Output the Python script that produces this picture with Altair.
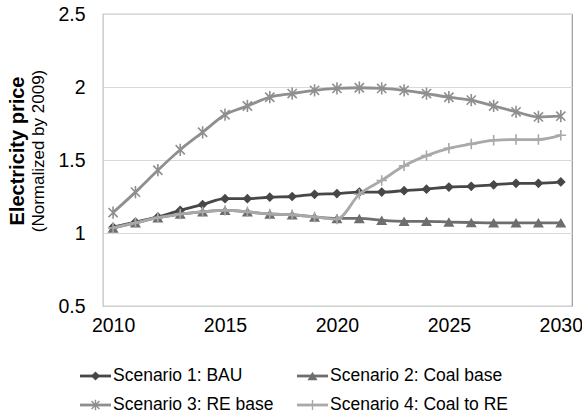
import altair as alt
import pandas as pd

years = list(range(2010, 2031))
bau = [1.04, 1.075, 1.11, 1.155, 1.195, 1.235, 1.235, 1.245, 1.25, 1.265, 1.27,
       1.28, 1.28, 1.29, 1.30, 1.315, 1.32, 1.33, 1.34, 1.34, 1.35]
coal_base = [1.035, 1.07, 1.105, 1.13, 1.145, 1.155, 1.145, 1.13, 1.125, 1.11, 1.10,
             1.10, 1.087, 1.08, 1.08, 1.075, 1.072, 1.07, 1.07, 1.07, 1.07]
re_base = [1.14, 1.28, 1.43, 1.57, 1.69, 1.81, 1.87, 1.93, 1.955, 1.977, 1.99,
           1.995, 1.99, 1.977, 1.955, 1.93, 1.91, 1.87, 1.83, 1.795, 1.80]
coal_to_re = [1.035, 1.07, 1.105, 1.13, 1.145, 1.155, 1.145, 1.13, 1.125, 1.11, 1.095,
              1.265, 1.36, 1.46, 1.53, 1.58, 1.61, 1.635, 1.64, 1.64, 1.67]

series_names = ["Scenario 1: BAU", "Scenario 2: Coal base",
                "Scenario 3: RE base", "Scenario 4: Coal to RE"]
series_values = [bau, coal_base, re_base, coal_to_re]
series_colors = ["#474747", "#6e6e6e", "#8f8f8f", "#a9a9a9"]
marker_shapes = ["diamond", "triangle-up",
                 "M0,-1L0,1M-0.75,-0.75L0.75,0.75M-0.75,0.75L0.75,-0.75",
                 "M-1,0L1,0M0,-1L0,1"]
marker_sizes = [95, 120, 150, 110]
legend_marker_sizes = [80, 100, 110, 100]
marker_filled = [True, True, False, False]
x_ticks = [2010, 2015, 2020, 2025, 2030]
y_ticks = [0.5, 1, 1.5, 2, 2.5]

# legend layout (2 x 2 grid below the plot, Excel-style)
legend_col = [0, 1, 0, 1]
legend_row = [0, 0, 1, 1]
legend_col_x = [-23, 194]
legend_row_y = [362, 391]
legend_sym_w = 31

rows = []
for name, vals in zip(series_names, series_values):
    for yr, v in zip(years, vals):
        rows.append({"Year": yr, "Price": v, "Scenario": name})
df = pd.DataFrame(rows)

leg_rows = []
for name, c, r in zip(series_names, legend_col, legend_row):
    x0 = legend_col_x[c]
    leg_rows.append({"Scenario": name, "x0": x0, "x1": x0 + legend_sym_w,
                     "xm": x0 + legend_sym_w / 2, "xt": x0 + legend_sym_w + 2,
                     "y": legend_row_y[r]})
leg_df = pd.DataFrame(leg_rows)

FONT = "Liberation Sans"
W, H = 469, 292

x_enc = alt.X("Year:Q",
              scale=alt.Scale(domain=[2009.55, 2030.5], nice=False, zero=False),
              axis=alt.Axis(values=x_ticks, format="d", title=None, ticks=False, tickSize=0,
                            grid=False, domainColor="#d0d0d0", labelPadding=10,
                            labelFontSize=19.5, labelFont=FONT, labelColor="#000"))
y_enc = alt.Y("Price:Q",
              scale=alt.Scale(domain=[0.5, 2.5], nice=False, zero=False),
              axis=alt.Axis(values=y_ticks, format="~g", title=None, ticks=False, tickSize=0,
                            grid=True, gridColor="#d9d9d9", gridWidth=1.2,
                            domainColor="#d0d0d0", labelPadding=18,
                            labelFontSize=19.5, labelFont=FONT, labelColor="#000"))
color_scale = alt.Scale(domain=series_names, range=series_colors)

base = alt.Chart(df)
layers = []
for i, name in enumerate(series_names):
    sub = base.transform_filter(alt.datum.Scenario == name)
    line = sub.mark_line(interpolate="monotone", strokeWidth=2.8).encode(
        x=x_enc, y=y_enc,
        color=alt.Color("Scenario:N", scale=color_scale, legend=None))
    if marker_filled[i]:
        pts = sub.mark_point(filled=True, opacity=1, size=marker_sizes[i])
    else:
        pts = sub.mark_point(filled=False, opacity=1, strokeWidth=1.6, size=marker_sizes[i])
    pts = pts.encode(
        x=x_enc, y=y_enc,
        color=alt.Color("Scenario:N", scale=color_scale, legend=None),
        shape=alt.value(marker_shapes[i]))
    layers += [line, pts]
data_group = alt.layer(*layers)

# legend group with its own pixel-like scales
lx = alt.Scale(domain=[0, W], nice=False, zero=False)
ly = alt.Scale(domain=[0, H], nice=False, zero=False, reverse=True)
lbase = alt.Chart(leg_df)
leg_layers = [
    lbase.mark_rule(strokeWidth=2.8).encode(
        x=alt.X("x0:Q", scale=lx, axis=None), x2="x1:Q",
        y=alt.Y("y:Q", scale=ly, axis=None),
        color=alt.Color("Scenario:N", scale=color_scale, legend=None)),
]
for i, name in enumerate(series_names):
    sub = lbase.transform_filter(alt.datum.Scenario == name)
    if marker_filled[i]:
        m = sub.mark_point(filled=True, opacity=1, size=legend_marker_sizes[i])
    else:
        m = sub.mark_point(filled=False, opacity=1, strokeWidth=1.4, size=legend_marker_sizes[i])
    leg_layers.append(m.encode(
        x=alt.X("xm:Q", scale=lx, axis=None), y=alt.Y("y:Q", scale=ly, axis=None),
        color=alt.Color("Scenario:N", scale=color_scale, legend=None),
        shape=alt.value(marker_shapes[i])))
leg_layers.append(lbase.mark_text(align="left", baseline="middle", font=FONT,
                                  fontSize=17.5, color="#000").encode(
    x=alt.X("xt:Q", scale=lx, axis=None), y=alt.Y("y:Q", scale=ly, axis=None),
    text="Scenario:N"))
legend_group = alt.layer(*leg_layers)

chart = alt.layer(data_group, legend_group).resolve_scale(
    x="independent", y="independent").properties(
    width=W, height=H,
    autosize=alt.AutoSizeParams(type="none"),
    padding={"left": 103, "top": 14, "right": 10, "bottom": 110},
    title=alt.TitleParams(text="Electricity price", subtitle="(Normalized by 2009)",
                          orient="left", anchor="middle", font=FONT, fontSize=20,
                          fontWeight="bold", color="#000", subtitleFont=FONT,
                          subtitleFontSize=17, subtitleColor="#000",
                          subtitlePadding=3, offset=11, dx=9),
).configure_view(stroke="#9a9a9a", strokeWidth=1.2)

chart.save("out.html", embed_options={"renderer": "svg", "actions": False})
